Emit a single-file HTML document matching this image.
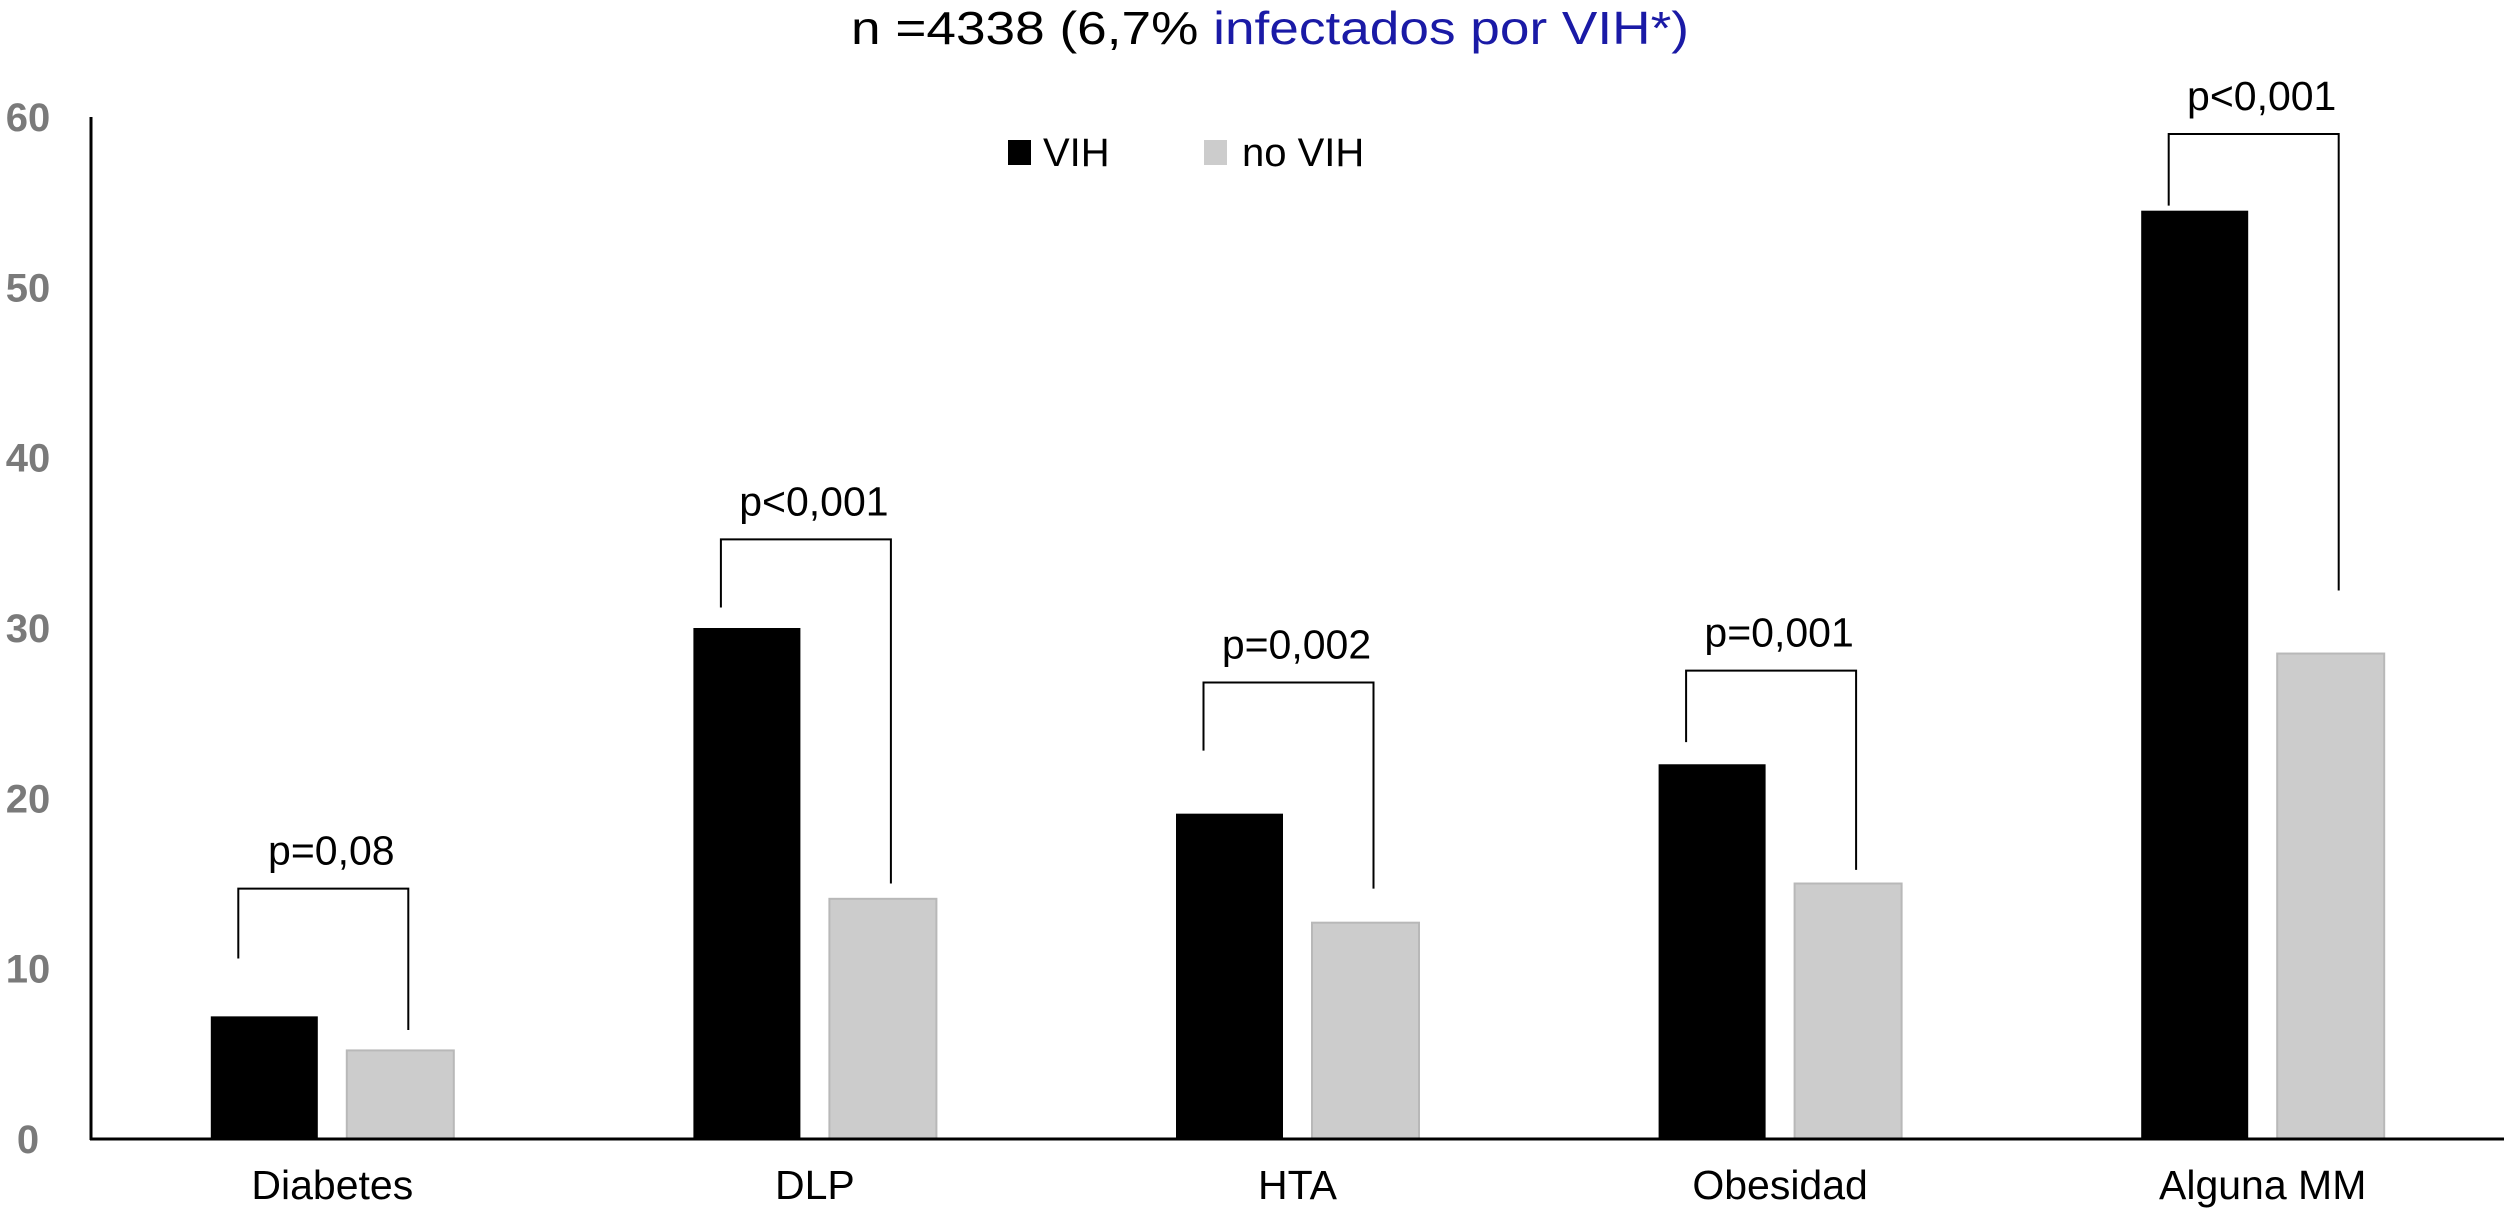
<!DOCTYPE html>
<html><head><meta charset="utf-8"><style>
html,body{margin:0;padding:0;background:#fff}
svg{display:block;font-family:"Liberation Sans",sans-serif}
</style></head><body>
<svg id="chart" width="2504" height="1224" viewBox="0 0 2504 1224" xmlns="http://www.w3.org/2000/svg">
<text x="1270" y="44" font-size="46" text-anchor="middle" textLength="838" lengthAdjust="spacingAndGlyphs"><tspan fill="#000">n =4338 (6,7% </tspan><tspan fill="#1a1aa6">infectados por VIH*)</tspan></text>
<g>
<rect x="1008" y="140" width="23" height="25" fill="#000"/>
<text x="1043" y="166" font-size="40">VIH</text>
<rect x="1204" y="140" width="23" height="25" fill="#cccccc"/>
<text x="1242" y="166" font-size="40">no VIH</text>
</g>
<g id="plot"></g>
</svg>
<script>
const categories = ["Diabetes","DLP","HTA","Obesidad","Alguna MM"];
const vihValues = [7.2, 30.0, 19.1, 22.0, 54.5];
const noVihValues = [5.2, 14.1, 12.7, 15.0, 28.5];
const pLabels = ["p=0,08","p<0,001","p=0,002","p=0,001","p<0,001"];
const bracketTop = [14.7, 35.2, 26.8, 27.5, 59.0];
const bracketLeftEnd = [10.6, 31.2, 22.8, 23.3, 54.8];
const bracketRightEnd = [6.4, 15.0, 14.7, 15.8, 32.2];
const yTicks = [0,10,20,30,40,50,60];

const NS = "http://www.w3.org/2000/svg";
const plot = document.getElementById('plot');
const x0 = 91, x1 = 2504, y0 = 1139, yTop = 117;
const band = (x1 - x0) / categories.length;
function yScale(v){ return y0 - (v/60)*(y0 - yTop); }
function xCenter(i){ return x0 + band*(i+0.5); }
function mk(tag, attrs){ const e=document.createElementNS(NS,tag); for(const k in attrs) e.setAttribute(k,attrs[k]); plot.appendChild(e); return e; }

yTicks.forEach(t=>{
  const e = mk('text',{x:28,y:yScale(t)+14,'font-size':40,'font-weight':'bold',fill:'#7a7a7a','text-anchor':'middle'});
  e.textContent = t;
  
  
});
const bw = 107, off = 68;
categories.forEach((c,i)=>{
  const cx = xCenter(i);
  const b1 = mk('rect',{x:cx-off-bw/2,y:yScale(vihValues[i]),width:bw,height:y0-yScale(vihValues[i]),fill:'#000'});
  
  
  const b2 = mk('rect',{x:cx+off-bw/2,y:yScale(noVihValues[i]),width:bw,height:y0-yScale(noVihValues[i]),fill:'#cccccc',stroke:'#b8b8b8','stroke-width':2});
  
  
  const lx = cx-off-26, rx = cx+off+8;
  const br = mk('polyline',{points:`${lx},${yScale(bracketLeftEnd[i])} ${lx},${yScale(bracketTop[i])} ${rx},${yScale(bracketTop[i])} ${rx},${yScale(bracketRightEnd[i])}`,fill:'none',stroke:'#000','stroke-width':2});
  
  
  const pt = mk('text',{x:(lx+rx)/2+8,y:yScale(bracketTop[i])-24,'font-size':41,'text-anchor':'middle'});
  pt.textContent = pLabels[i];
  
  
  const cl = mk('text',{x:cx,y:1168+31,'font-size':41,'text-anchor':'middle'});
  cl.textContent = c;
  
  
});
const ya = mk('line',{x1:x0,y1:yTop,x2:x0,y2:y0+1,stroke:'#000','stroke-width':3});


const xa = mk('line',{x1:x0-1,y1:y0,x2:x1,y2:y0,stroke:'#000','stroke-width':3});


</script>
</body></html>
